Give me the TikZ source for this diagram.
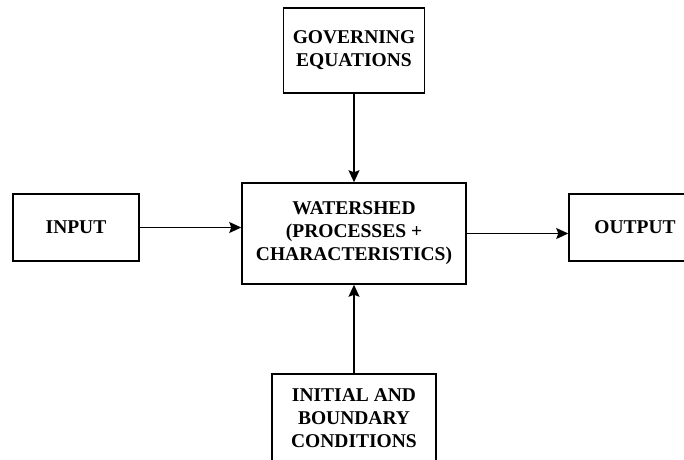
\documentclass[tikz,border=0pt]{standalone}
\usepackage{fontspec}
\setmainfont{Liberation Serif}
\usepackage{tikz}
\usetikzlibrary{arrows.meta}
\tikzset{
  blockbox/.style={draw, line width=1.5pt, align=center,
    font=\fontsize{19.5}{23}\selectfont\bfseries, inner sep=0pt},
  flow/.style={-{Stealth[length=12pt, width=11pt, inset=2pt]}, line width=1.4pt}
}

\begin{document}
\begin{tikzpicture}[x=1pt, y=1pt]
  \clip (0,0) rectangle (684,459);

  % boxes
  \node[blockbox, minimum width=224pt, minimum height=101pt] (ws) at (354,225.5)
    {WATERSHED\\(PROCESSES +\\CHARACTERISTICS)};
  \node[blockbox, minimum width=141pt, minimum height=85pt] (gov) at (354,408.5)
    {GOVERNING\\EQUATIONS};
  \node[blockbox, minimum width=126pt, minimum height=67pt] (in) at (76,231.5) {INPUT};
  \node[blockbox, minimum width=132pt, minimum height=67pt] (out) at (635,231.5) {OUTPUT};
  \node[blockbox, minimum width=164pt, minimum height=88pt] (init) at (354,41)
    {INITIAL AND\\BOUNDARY\\CONDITIONS};

  % arrows
  \draw[flow] (in.east) -- (in.east -| ws.west);
  \draw[flow] (ws.east) -- (ws.east -| out.west);
  \draw[flow] (gov.south) -- (ws.north);
  \draw[flow] (init.north) -- (ws.south);
\end{tikzpicture}
\end{document}
